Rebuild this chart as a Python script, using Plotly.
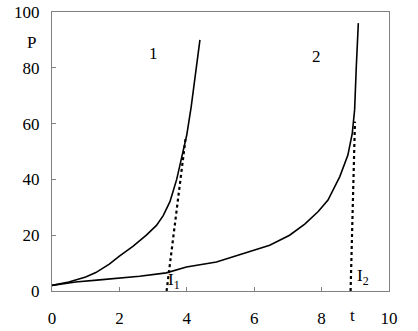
import plotly.graph_objects as go

# Curve 1
t1 = [0.0, 0.5, 1.0, 1.3, 1.7, 2.0, 2.4, 2.8, 3.1, 3.3, 3.5, 3.7, 3.85, 4.0, 4.13, 4.28, 4.39]
p1 = [2.0, 3.2, 5.0, 6.6, 9.6, 12.5, 16.0, 20.0, 23.5, 27.0, 32.0, 40.0, 48.0, 56.0, 66.0, 80.5, 90.0]
# Curve 2
t2 = [0.0, 0.7, 1.41, 2.6, 3.39, 3.99, 4.88, 5.96, 6.46, 7.05, 7.5, 7.9, 8.19, 8.54, 8.78, 8.91, 8.98, 9.03, 9.09]
p2 = [2.0, 3.2, 4.0, 5.3, 6.5, 8.6, 10.4, 14.6, 16.4, 20.0, 24.0, 28.5, 32.6, 41.0, 48.7, 56.5, 65.0, 80.5, 96.0]
# Tangent (dotted) lines
d1_t = [3.4, 3.97]
d1_p = [0.0, 55.3]
d2_t = [8.86, 8.99]
d2_p = [0.0, 60.7]

x_ticks = [0, 2, 4, 6, 8, 10]
y_ticks = [0, 20, 40, 60, 80, 100]

font = "Liberation Serif, Times New Roman, serif"

fig = go.Figure()
fig.add_trace(go.Scatter(x=t1, y=p1, mode="lines", line=dict(color="black", width=1.6), showlegend=False))
fig.add_trace(go.Scatter(x=t2, y=p2, mode="lines", line=dict(color="black", width=1.6), showlegend=False))
fig.add_trace(go.Scatter(x=d1_t, y=d1_p, mode="lines", line=dict(color="black", width=2.2, dash="3px,3px"), showlegend=False))
fig.add_trace(go.Scatter(x=d2_t, y=d2_p, mode="lines", line=dict(color="black", width=2.2, dash="3px,3px"), showlegend=False))

ann = [
    dict(x=3.0, y=85, text="1"),
    dict(x=7.86, y=84, text="2"),
    dict(x=3.62, y=3.5, text="I<sub>1</sub>"),
    dict(x=9.22, y=5.0, text="I<sub>2</sub>"),
]
for a in ann:
    fig.add_annotation(x=a["x"], y=a["y"], text=a["text"], showarrow=False,
                       font=dict(family=font, size=17, color="black"))
fig.add_annotation(x=8.93, y=0, yshift=-24, text="t", showarrow=False,
                   font=dict(family=font, size=17, color="black"))
fig.add_annotation(xref="paper", yref="y", x=-0.08, y=89, text="P", showarrow=False,
                   font=dict(family=font, size=17, color="black"))

fig.update_layout(
    width=418, height=331,
    margin=dict(l=52, r=29, t=12, b=40),
    paper_bgcolor="white", plot_bgcolor="white",
    font=dict(family=font, size=17, color="black"),
    xaxis=dict(range=[0, 10], tickvals=x_ticks, ticks="inside", ticklen=4, tickcolor="#808080",
               showline=True, linecolor="#808080", linewidth=1.2, mirror=True, showgrid=False,
               zeroline=False, ticklabelstandoff=11, automargin=False),
    yaxis=dict(range=[0, 100], tickvals=y_ticks, ticks="inside", ticklen=4, tickcolor="#808080",
               showline=True, linecolor="#808080", linewidth=1.2, mirror=True, showgrid=False,
               zeroline=False, ticklabelstandoff=8, automargin=False),
)
fig.write_html("out.html")
